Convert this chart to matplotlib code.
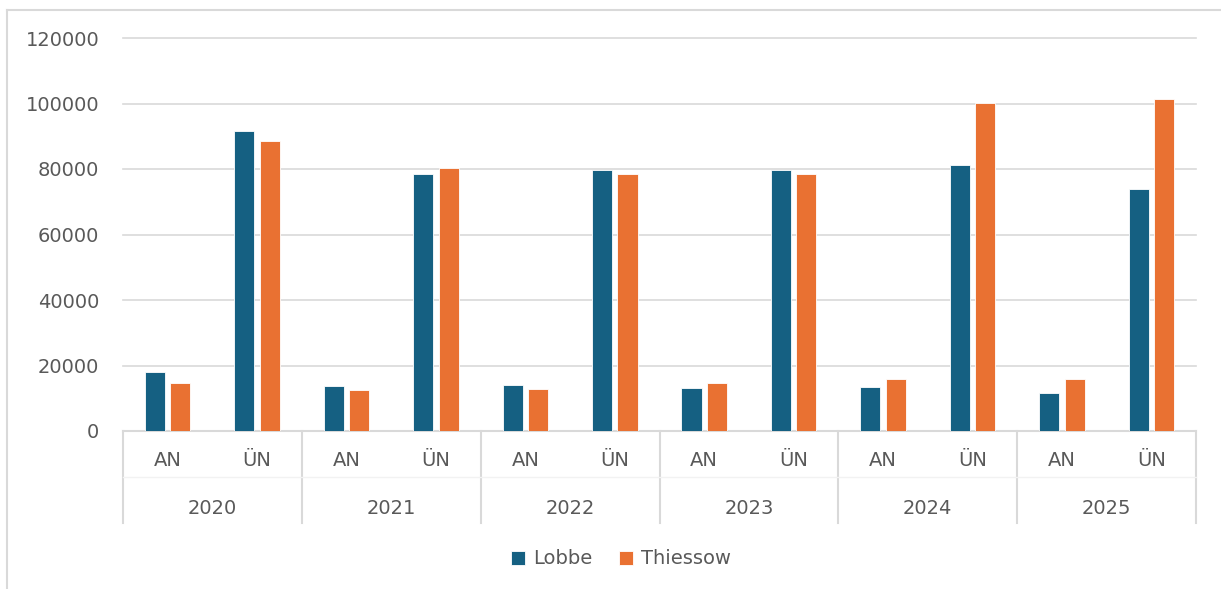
import numpy as np
import matplotlib.pyplot as plt
from matplotlib.lines import Line2D

#-------------- Data --------------
years = ["2020", "2021", "2022", "2023", "2024", "2025"]
subcats = ["AN", "ÜN"]
lobbe = [18100, 91700, 13800, 78500, 14100, 79700, 13200, 79700, 13500, 81300, 11700, 73900]
thiessow = [14700, 88600, 12400, 80400, 12800, 78600, 14800, 78600, 15900, 100200, 15900, 101300]
#----------------------------------

col_lobbe = "#156082"
col_thiessow = "#E97132"
txt = "#595959"
grid = "#D9D9D9"

plt.rcParams['font.family'] = ['DejaVu Sans']
fs = 14

fig = plt.figure(figsize=(12.21, 5.89), dpi=100)
ax = fig.add_axes([123/1221, 1-431/589, (1196-123)/1221, (431-38)/589])

n = len(lobbe)
x = np.arange(n)
w = 0.225
off = 0.142
ax.bar(x-off, lobbe, w, color=col_lobbe, edgecolor="white", linewidth=0.6, label="Lobbe", zorder=3)
ax.bar(x+off, thiessow, w, color=col_thiessow, edgecolor="white", linewidth=0.6, label="Thiessow", zorder=3)

ax.set_xlim(-0.5, n-0.5)
ax.set_ylim(0, 120000)
ax.set_yticks(range(0, 120001, 20000))
ax.tick_params(axis='y', length=0, pad=17, labelsize=fs, labelcolor=txt)
ax.yaxis.grid(True, color=grid, linewidth=1.2, zorder=0)
for gl in ax.get_ygridlines():
    gl.set_clip_on(False)
ax.set_xticks([])
for s in ["top", "right", "left"]:
    ax.spines[s].set_visible(False)
ax.spines["bottom"].set_color(grid)
ax.spines["bottom"].set_linewidth(1.5)

# two level category axis
trans = ax.get_xaxis_transform()
for i in range(n):
    ax.text(i, -30/393, subcats[i % 2], transform=trans, ha="center", va="center",
            fontsize=fs, color=txt)
for j, yr in enumerate(years):
    ax.text(2*j+0.5, -77/393, yr, transform=trans, ha="center", va="center",
            fontsize=fs, color=txt)
for k in range(len(years)+1):
    ax.add_line(Line2D([2*k-0.5, 2*k-0.5], [0, -92/393], transform=trans, color=grid,
                       linewidth=1.5, clip_on=False))
ax.add_line(Line2D([-0.5, n-0.5], [-46/393, -46/393], transform=trans, color="#F2F2F2",
                   linewidth=1, clip_on=False))

leg = fig.legend(loc="center", bbox_to_anchor=(621/1221, 1-559/589), ncol=2, frameon=False,
                 fontsize=fs, handlelength=0.7, handleheight=0.7, handletextpad=0.4,
                 columnspacing=1.4)
for t in leg.get_texts():
    t.set_color(txt)

# outer chart border
fig.add_artist(Line2D([7/1221, 7/1221], [0, 1-10/589], color=grid, linewidth=1.5))
fig.add_artist(Line2D([7/1221, 1], [1-10/589, 1-10/589], color=grid, linewidth=1.5))

fig.savefig("out.png", dpi=100)
